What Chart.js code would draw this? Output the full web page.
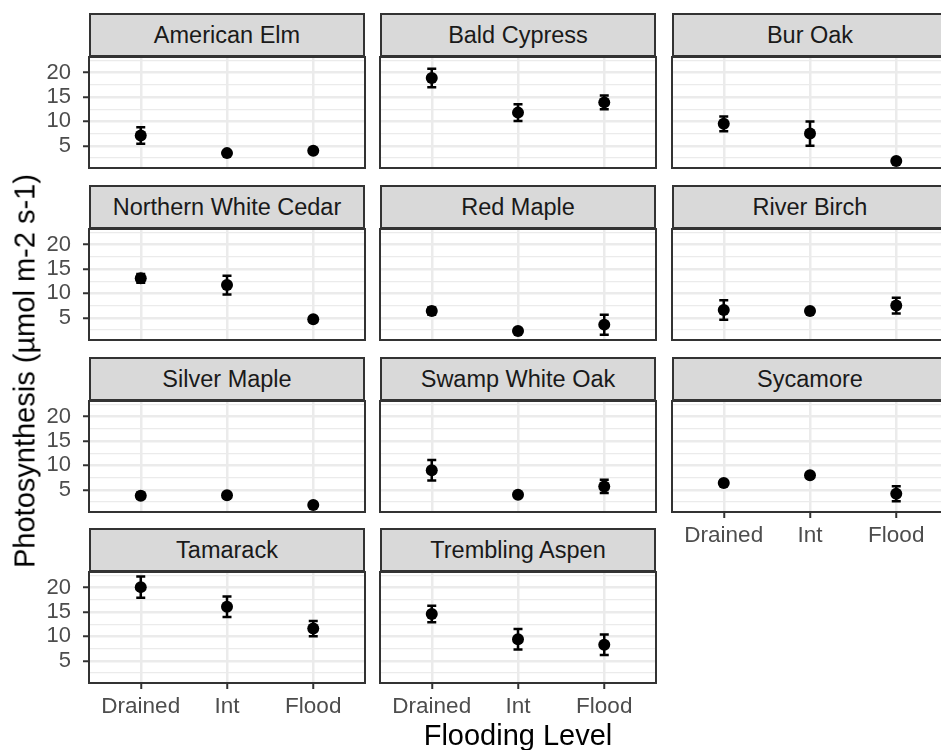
<!DOCTYPE html>
<html>
<head>
<meta charset="utf-8">
<script src="https://cdn.jsdelivr.net/npm/chart.js@4.4.1/dist/chart.umd.min.js"></script>
<style>
  html, body { margin: 0; padding: 0; background: #fff; overflow: hidden; }
  #page { position: relative; width: 941px; height: 750px; overflow: hidden;
          font-family: "Liberation Sans", Arial, sans-serif; }
  .panel { position: absolute; }
  .strip { position: absolute; box-sizing: border-box; background: #D9D9D9;
           border: 2px solid #333; color: #1A1A1A; font-size: 23.5px;
           text-align: center; line-height: 40px; white-space: nowrap; }
  .title { position: absolute; color: #000; font-size: 29px; white-space: nowrap; }
</style>
</head>
<body>
<div id="page"></div>
<script>
"use strict";

// data
const species = ['American Elm', 'Bald Cypress', 'Bur Oak', 'Northern White Cedar', 'Red Maple',
  'River Birch', 'Silver Maple', 'Swamp White Oak', 'Sycamore', 'Tamarack', 'Trembling Aspen'];
const levels = ['Drained', 'Int', 'Flood'];
const meanDrained = [7.1, 18.9, 9.5, 13.1, 6.4, 6.6, 3.8, 9.0, 6.4, 20.1, 14.6];
const meanInt     = [3.5, 11.8, 7.5, 11.7, 2.3, 6.4, 3.9, 4.0, 8.0, 16.1, 9.4];
const meanFlood   = [4.0, 13.9, 1.9, 4.7, 3.6, 7.5, 1.9, 5.7, 4.2, 11.6, 8.3];
const seDrained = [1.7, 1.9, 1.5, 0.9, 0.7, 2.0, 0.6, 2.1, 0.4, 2.2, 1.7];
const seInt     = [0.3, 1.7, 2.5, 1.9, 0.3, 0.3, 0.3, 0.3, 0.3, 2.1, 2.1];
const seFlood   = [0.4, 1.4, 0.3, 0.4, 2.05, 1.6, 0.3, 1.35, 1.55, 1.55, 2.1];
const yTicks = [2.5, 5, 7.5, 10, 12.5, 15, 17.5, 20, 22.5];

// facet layout
const colLeft = [89, 380, 672];
const stripTop = [13, 185, 357, 528];
const plotW = 276, plotH = 111, stripH = 44;
const axisW = 70, axisH = 45, padT = 30, padR = 40;

Chart.defaults.font.family = '"Liberation Sans", Arial, sans-serif';

const errorBars = {
  id: 'errorBars',
  beforeDatasetsDraw(chart) {
    const ctx = chart.ctx;
    const xs = chart.scales.x, ys = chart.scales.y;
    const ds = chart.data.datasets[0];
    ctx.save();
    ctx.strokeStyle = '#000';
    ctx.lineWidth = 2.5;
    ds.data.forEach((p, i) => {
      const x = xs.getPixelForValue(p.x);
      const y1 = ys.getPixelForValue(p.y - ds.se[i]);
      const y2 = ys.getPixelForValue(p.y + ds.se[i]);
      ctx.beginPath();
      ctx.moveTo(x, y1); ctx.lineTo(x, y2);
      ctx.moveTo(x - 4.5, y1); ctx.lineTo(x + 4.5, y1);
      ctx.moveTo(x - 4.5, y2); ctx.lineTo(x + 4.5, y2);
      ctx.stroke();
    });
    ctx.restore();
  }
};

const panelBorder = {
  id: 'panelBorder',
  afterDraw(chart) {
    const a = chart.chartArea, ctx = chart.ctx;
    ctx.save();
    ctx.strokeStyle = '#333';
    ctx.lineWidth = 2;
    ctx.strokeRect(a.left, a.top, a.right - a.left, a.bottom - a.top);
    ctx.restore();
  }
};

const page = document.getElementById('page');

species.forEach((name, k) => {
  const col = k % 3, row = Math.floor(k / 3);
  const left = colLeft[col], sTop = stripTop[row], pTop = sTop + stripH;
  const showY = col === 0;
  const showX = k >= 8;

  const strip = document.createElement('div');
  strip.className = 'strip';
  strip.style.left = left + 'px';
  strip.style.top = sTop + 'px';
  strip.style.width = plotW + 'px';
  strip.style.height = stripH + 'px';
  strip.textContent = name;
  page.appendChild(strip);

  const canvas = document.createElement('canvas');
  canvas.className = 'panel';
  canvas.width = plotW + axisW + padR;
  canvas.height = plotH + padT + axisH;
  canvas.style.left = (left - axisW) + 'px';
  canvas.style.top = (pTop - padT) + 'px';
  page.appendChild(canvas);

  new Chart(canvas, {
    type: 'scatter',
    data: {
      datasets: [{
        data: [
          { x: 1, y: meanDrained[k] },
          { x: 2, y: meanInt[k] },
          { x: 3, y: meanFlood[k] }
        ],
        se: [seDrained[k], seInt[k], seFlood[k]],
        backgroundColor: '#000',
        borderWidth: 0,
        pointRadius: 6
      }]
    },
    options: {
      responsive: false,
      animation: false,
      devicePixelRatio: 1,
      layout: { padding: { left: 0, top: padT, right: padR, bottom: 0 } },
      plugins: { legend: { display: false }, tooltip: { enabled: false } },
      scales: {
        x: {
          type: 'linear', min: 0.4, max: 3.6,
          afterBuildTicks: s => { s.ticks = [1, 2, 3].map(v => ({ value: v })); },
          afterFit: s => { s.height = axisH; },
          border: { display: false },
          grid: { color: '#EBEBEB', lineWidth: 2.5, drawTicks: showX, tickLength: 6,
                  tickColor: '#333', tickWidth: 2 },
          ticks: { display: showX, autoSkip: false, maxRotation: 0, minRotation: 0,
                   padding: 4, color: '#4D4D4D', font: { size: 22.5 },
                   callback: v => levels[v - 1] }
        },
        y: {
          type: 'linear', min: 0.45, max: 23.2,
          afterBuildTicks: s => { s.ticks = yTicks.map(v => ({ value: v })); },
          afterFit: s => { s.width = axisW; },
          border: { display: false },
          grid: {
            color: '#EBEBEB',
            lineWidth: c => (c.tick && c.tick.value % 5 === 0) ? 2.5 : 1.3,
            drawTicks: showY, tickLength: 6, tickWidth: 2,
            tickColor: c => (c.tick && c.tick.value % 5 === 0) ? '#333' : 'rgba(0,0,0,0)'
          },
          ticks: { display: showY, autoSkip: false, padding: 12, color: '#4D4D4D',
                   font: { size: 22 },
                   callback: v => (v % 5 === 0) ? String(v) : '' }
        }
      }
    },
    plugins: [errorBars, panelBorder]
  });
});

// axis titles
const xt = document.createElement('div');
xt.className = 'title';
xt.textContent = 'Flooding Level';
xt.style.left = '518px';
xt.style.top = '735px';
xt.style.transform = 'translate(-50%, -50%)';
page.appendChild(xt);

const yt = document.createElement('div');
yt.className = 'title';
yt.textContent = 'Photosynthesis (µmol m-2 s-1)';
yt.style.left = '25px';
yt.style.top = '371px';
yt.style.transform = 'translate(-50%, -50%) rotate(-90deg)';
page.appendChild(yt);
</script>
</body>
</html>
